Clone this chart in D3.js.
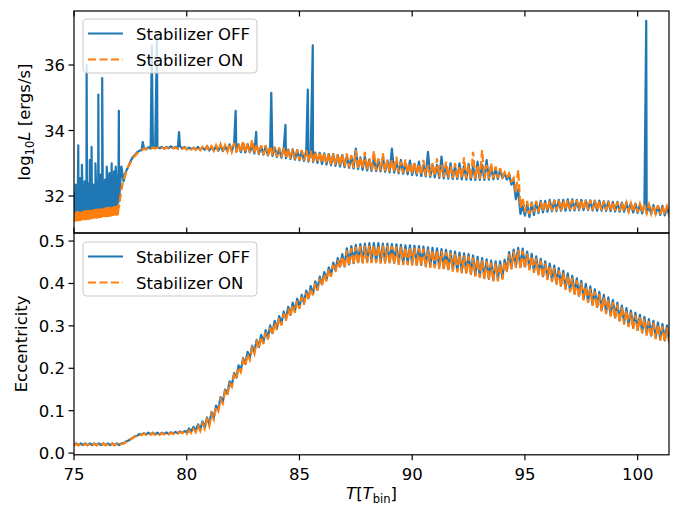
<!DOCTYPE html>
<html>
<head>
<meta charset="utf-8">
<script src="https://cdn.jsdelivr.net/npm/d3@7"></script>
<style>
  body { margin: 0; background: #fff; }
  svg { font-family: "DejaVu Sans", sans-serif; }
</style>
</head>
<body>
<svg id="chart"></svg>
<script>
// dense burst phase 75-77: lows at t = 75 + 0.05*i, highs half a step later
var burstStart = 75, burstStep = 0.05;
// main sampling: lows at t = start + 0.2*i, highs half a step later
var lumStart = 77, eccStart = 75, mainStep = 0.2;

var lumOffBurstLo = [
  31.30,31.30,31.31,31.31,31.32,31.32,31.33,31.33,31.34,31.34,
  31.35,31.35,31.36,31.36,31.37,31.37,31.38,31.38,31.39,31.39,
  31.40,31.40,31.41,31.41,31.42,31.42,31.43,31.43,31.44,31.44,
  31.45,31.45,31.46,31.46,31.47,31.47,31.48,31.48,31.49,31.50
];
var lumOffBurstHi = [
  32.10,32.35,31.95,32.40,32.20,32.55,32.05,32.30,32.15,32.45,
  32.25,32.60,32.10,32.40,32.20,32.50,32.15,32.35,32.05,32.45,
  32.20,32.55,32.30,32.65,32.25,32.45,32.15,32.50,32.30,32.60,
  32.25,32.70,32.35,32.55,32.40,32.75,32.45,32.60,32.50,32.80
];
var lumOnBurstLo = [
  31.22,31.23,31.22,31.24,31.23,31.25,31.24,31.26,31.25,31.27,
  31.26,31.28,31.27,31.29,31.28,31.30,31.29,31.31,31.30,31.32,
  31.31,31.33,31.32,31.34,31.33,31.35,31.34,31.36,31.35,31.37,
  31.36,31.38,31.37,31.39,31.38,31.40,31.39,31.41,31.40,31.42
];
var lumOnBurstHi = [
  31.48,31.52,31.50,31.54,31.51,31.53,31.52,31.55,31.53,31.56,
  31.54,31.57,31.55,31.58,31.56,31.59,31.57,31.60,31.58,31.61,
  31.59,31.62,31.60,31.63,31.61,31.64,31.62,31.65,31.63,31.66,
  31.64,31.67,31.65,31.68,31.66,31.69,31.67,31.70,31.68,31.72
];

var lumOffLo = [
  31.85,32.45,32.88,33.18,33.34, 33.40,33.43,33.45,33.46,33.46,
  33.45,33.46,33.46,33.45,33.45, 33.43,33.43,33.42,33.41,33.41,
  33.39,33.39,33.38,33.37,33.37, 33.36,33.35,33.34,33.33,33.33,
  33.30,33.28,33.26,33.24,33.22, 33.19,33.17,33.15,33.13,33.11,
  33.09,33.07,33.05,33.03,33.01, 32.98,32.96,32.94,32.92,32.90,
  32.88,32.86,32.84,32.82,32.80, 32.78,32.77,32.76,32.75,32.74,
  32.72,32.71,32.69,32.68,32.66, 32.64,32.63,32.61,32.60,32.58,
  32.57,32.55,32.54,32.53,32.52, 32.52,32.51,32.50,32.49,32.49,
  32.49,32.49,32.50,32.51,32.52, 32.55,32.50,32.35,31.90,31.45,
  31.40,31.36,31.42,31.48,31.50, 31.52,31.53,31.54,31.55,31.55,
  31.56,31.56,31.57,31.57,31.57, 31.56,31.55,31.55,31.54,31.54,
  31.53,31.52,31.52,31.51,31.50, 31.48,31.47,31.46,31.45,31.44,
  31.42,31.41,31.40
];
var lumOffHi = [
  32.90,32.75,33.05,33.25,33.38, 33.47,33.49,33.50,33.50,33.50,
  33.50,33.52,33.50,33.52,33.50, 33.48,33.48,33.50,33.48,33.52,
  33.50,33.52,33.55,33.52,33.58, 33.60,33.58,33.62,33.58,33.58,
  33.55,33.52,33.52,33.50,33.48, 33.45,33.45,33.42,33.42,33.40,
  33.38,33.38,33.35,33.33,33.32, 33.30,33.28,33.28,33.25,33.25,
  33.22,33.20,33.45,33.18,33.20, 33.12,33.15,33.10,33.20,33.08,
  33.45,33.05,33.10,33.00,33.08, 32.98,33.05,32.95,33.35,32.95,
  32.95,33.20,32.92,33.00,32.90, 33.00,32.92,32.98,32.90,33.05,
  32.95,33.10,32.90,32.85,32.80, 32.70,32.65,32.45,32.20,31.70,
  31.75,31.80,31.82,31.85,31.85, 31.88,31.87,31.88,31.88,31.90,
  31.90,31.88,31.88,31.87,31.87, 31.86,31.86,31.84,31.84,31.82,
  31.82,31.80,31.80,31.78,31.77, 31.75,31.74,31.73,31.72,31.70,
  31.70,31.68,31.67
];
var lumOffSpikeT = [75.19, 75.35, 75.56, 75.70, 75.78, 75.95, 76.08, 76.25, 76.45, 76.67, 76.85, 76.99,
                    78.05, 78.45, 78.68, 79.66, 82.17, 83.08, 83.75, 84.38, 85.37, 85.59, 100.38];
var lumOffSpikeV = [33.55, 32.95, 36.0, 33.1, 33.5, 33.0, 35.1, 35.6, 32.9, 33.0, 32.9, 34.6,
                    33.65, 36.6, 36.9, 33.95, 34.6, 33.96, 35.15, 34.17, 35.25, 36.6, 37.35];

var lumOnLo = [
  31.70,32.50,32.90,33.15,33.30, 33.38,33.42,33.44,33.45,33.45,
  33.44,33.45,33.45,33.44,33.44, 33.42,33.42,33.41,33.40,33.40,
  33.38,33.38,33.37,33.36,33.36, 33.35,33.34,33.33,33.32,33.32,
  33.30,33.28,33.26,33.24,33.22, 33.20,33.18,33.16,33.14,33.12,
  33.10,33.08,33.06,33.04,33.02, 33.00,32.98,32.96,32.94,32.92,
  32.90,32.88,32.86,32.84,32.82, 32.80,32.79,32.78,32.77,32.76,
  32.75,32.74,32.72,32.70,32.69, 32.67,32.66,32.64,32.62,32.61,
  32.60,32.58,32.57,32.56,32.55, 32.55,32.54,32.53,32.52,32.52,
  32.52,32.52,32.53,32.54,32.55, 32.58,32.55,32.45,32.10,31.65,
  31.50,31.45,31.50,31.52,31.53, 31.55,31.55,31.56,31.56,31.57,
  31.58,31.58,31.58,31.58,31.58, 31.57,31.57,31.56,31.56,31.55,
  31.55,31.54,31.54,31.53,31.52, 31.50,31.49,31.48,31.47,31.46,
  31.44,31.43,31.42
];
var lumOnHi = [
  32.20,32.70,33.00,33.22,33.35, 33.45,33.47,33.48,33.48,33.48,
  33.48,33.49,33.49,33.48,33.48, 33.47,33.47,33.50,33.50,33.52,
  33.52,33.55,33.58,33.55,33.60, 33.62,33.60,33.68,33.62,33.72,
  33.58,33.55,33.55,33.52,33.50, 33.48,33.48,33.45,33.45,33.42,
  33.40,33.40,33.38,33.35,33.35, 33.32,33.30,33.30,33.28,33.30,
  33.30,33.25,33.40,33.20,33.35, 33.15,33.38,33.15,33.30,33.10,
  33.10,33.20,33.05,33.12,33.00, 33.05,32.98,33.10,32.95,33.00,
  33.15,32.95,33.05,32.92,33.00, 32.90,33.18,32.95,33.35,32.95,
  33.40,32.95,33.00,32.90,32.85, 32.72,32.68,32.55,32.80,31.95,
  31.85,31.80,31.85,31.82,31.85, 31.85,31.86,31.86,31.87,31.87,
  31.88,31.88,31.88,31.87,31.87, 31.86,31.85,31.85,31.84,31.83,
  31.82,31.80,31.80,31.78,31.78, 31.76,31.75,31.74,31.72,31.72,
  31.70,31.68,31.68
];

var eccOffLo = [
  .019,.019,.019,.019,.019, .019,.019,.019,.019,.019,
  .019,.023,.029,.036,.041, .043,.044,.044,.044,.044,
  .045,.045,.046,.047,.048, .049,.051,.053,.056,.061,
  .068,.083,.103,.121,.140, .160,.178,.195,.210,.224,
  .238,.250,.261,.272,.283, .294,.305,.316,.326,.335,
  .344,.354,.365,.376,.387, .398,.409,.420,.431,.440,
  .440,.445,.448,.450,.451, .452,.452,.452,.451,.451,
  .450,.449,.448,.447,.447, .446,.445,.444,.442,.441,
  .440,.438,.436,.434,.432, .430,.428,.426,.423,.420,
  .417,.414,.411,.409,.409, .413,.431,.437,.441,.439,
  .440,.435,.429,.423,.417, .412,.407,.401,.395,.389,
  .383,.377,.371,.364,.358, .351,.345,.338,.332,.326,
  .320,.313,.307,.301,.296, .291,.286,.281,.277,.273,
  .269,.266,.263
];
var eccOffHi = [
  .023,.023,.023,.023,.023, .023,.023,.023,.023,.023,
  .023,.027,.033,.040,.045, .047,.048,.048,.048,.048,
  .049,.049,.050,.051,.052, .058,.062,.068,.075,.084,
  .097,.112,.132,.150,.169, .189,.207,.224,.239,.253,
  .267,.279,.290,.301,.312, .323,.334,.345,.355,.364,
  .373,.383,.394,.405,.416, .427,.438,.449,.460,.469,
  .483,.488,.491,.493,.494, .495,.495,.495,.494,.494,
  .493,.492,.491,.490,.490, .489,.488,.487,.485,.484,
  .483,.481,.479,.477,.475, .473,.471,.469,.466,.463,
  .460,.457,.454,.452,.452, .456,.474,.480,.484,.482,
  .475,.470,.464,.458,.452, .447,.442,.436,.430,.424,
  .418,.412,.406,.399,.393, .386,.380,.373,.367,.361,
  .355,.348,.342,.336,.331, .326,.321,.316,.312,.308,
  .304,.301,.298
];
var eccOnLo = [
  .018,.018,.018,.018,.018, .018,.018,.018,.018,.018,
  .018,.022,.028,.035,.040, .042,.043,.043,.043,.043,
  .044,.044,.045,.046,.047, .045,.047,.049,.052,.057,
  .064,.079,.099,.117,.136, .156,.174,.191,.206,.220,
  .234,.246,.257,.268,.279, .290,.301,.312,.322,.331,
  .340,.350,.361,.372,.383, .394,.405,.416,.427,.436,
  .436,.441,.444,.446,.447, .448,.448,.448,.447,.447,
  .446,.445,.444,.443,.443, .442,.441,.440,.438,.437,
  .436,.434,.432,.430,.428, .426,.424,.422,.419,.416,
  .413,.410,.407,.405,.405, .409,.427,.433,.437,.435,
  .436,.431,.425,.419,.413, .408,.403,.397,.391,.385,
  .379,.373,.367,.360,.354, .347,.341,.334,.328,.322,
  .316,.309,.303,.297,.292, .287,.282,.277,.273,.269,
  .265,.262,.259
];
var eccOnHi = [
  .022,.022,.022,.022,.022, .022,.022,.022,.022,.022,
  .022,.026,.032,.039,.044, .046,.047,.047,.047,.047,
  .048,.048,.049,.050,.051, .053,.057,.063,.070,.079,
  .092,.107,.127,.145,.164, .184,.202,.219,.234,.248,
  .262,.274,.285,.296,.307, .318,.329,.340,.350,.359,
  .368,.378,.389,.400,.411, .422,.433,.444,.455,.464,
  .478,.483,.486,.488,.489, .490,.490,.490,.489,.489,
  .488,.487,.486,.485,.485, .484,.483,.482,.480,.479,
  .478,.476,.474,.472,.470, .468,.466,.464,.461,.458,
  .455,.452,.449,.447,.447, .451,.469,.475,.479,.477,
  .470,.465,.459,.453,.447, .442,.437,.431,.425,.419,
  .413,.407,.401,.394,.388, .381,.375,.368,.362,.356,
  .350,.343,.337,.331,.326, .321,.316,.311,.307,.303,
  .299,.296,.293
];

var xTicks = [75, 80, 85, 90, 95, 100];
var lumTicks = [32, 34, 36];
var eccTicks = [0.0, 0.1, 0.2, 0.3, 0.4, 0.5];
var seriesNames = ["Stabilizer OFF", "Stabilizer ON"];
var colors = ["#1f77b4", "#ff7f0e"];

var width = 688, height = 508;
var left = 74, right = 669;
var top1 = 11, bot1 = 233, top2 = 233, bot2 = 454.8;
var fontSize = 16.5;

var svg = d3.select("#chart").attr("width", width).attr("height", height);

var x = d3.scaleLinear().domain([75, 101.39]).range([left, right]);
var yL = d3.scaleLinear().domain([30.87, 37.65]).range([bot1, top1]);
var yE = d3.scaleLinear().domain([-0.004, 0.519]).range([bot2, top2]);

// lows and highs alternate, half a step apart
function zig(start, step, lo, hi) {
  var pts = [];
  lo.forEach(function(v, i) {
    pts.push([start + step * i, v]);
    pts.push([start + step * i + step / 2, hi[i]]);
  });
  return pts;
}
function withSpikes(pts, spT, spV) {
  spT.forEach(function(t, i) { pts.push([t, spV[i]]); });
  return pts.sort(function(a, b) { return a[0] - b[0]; });
}

var defs = svg.append("defs");
defs.append("clipPath").attr("id", "c1").append("rect")
  .attr("x", left).attr("y", top1).attr("width", right - left).attr("height", bot1 - top1);
defs.append("clipPath").attr("id", "c2").append("rect")
  .attr("x", left).attr("y", top2).attr("width", right - left).attr("height", bot2 - top2);

function panel(y, clip, off, on) {
  var line = d3.line().x(function(d) { return x(d[0]); }).y(function(d) { return y(d[1]); });
  var g = svg.append("g").attr("clip-path", "url(#" + clip + ")");
  g.append("path").datum(off).attr("d", line)
    .attr("fill", "none").attr("stroke", colors[0]).attr("stroke-width", 2.2)
    .attr("stroke-linejoin", "round");
  g.append("path").datum(on).attr("d", line)
    .attr("fill", "none").attr("stroke", colors[1]).attr("stroke-width", 2.2)
    .attr("stroke-dasharray", "8,3.5");
}

var lumOff = withSpikes(
  zig(burstStart, burstStep, lumOffBurstLo, lumOffBurstHi).concat(zig(lumStart, mainStep, lumOffLo, lumOffHi)),
  lumOffSpikeT, lumOffSpikeV);
var lumOn = zig(burstStart, burstStep, lumOnBurstLo, lumOnBurstHi).concat(zig(lumStart, mainStep, lumOnLo, lumOnHi));

panel(yL, "c1", lumOff, lumOn);
panel(yE, "c2", zig(eccStart, mainStep, eccOffLo, eccOffHi), zig(eccStart, mainStep, eccOnLo, eccOnHi));

// frames
[[top1, bot1], [top2, bot2]].forEach(function(p) {
  svg.append("rect").attr("x", left).attr("y", p[0]).attr("width", right - left).attr("height", p[1] - p[0])
    .attr("fill", "none").attr("stroke", "#000").attr("stroke-width", 1.2);
});

// y axes
function yAxis(y, ticks, fmt) {
  var g = svg.append("g");
  ticks.forEach(function(t) {
    g.append("line").attr("x1", left - 5.5).attr("x2", left).attr("y1", y(t)).attr("y2", y(t))
      .attr("stroke", "#000").attr("stroke-width", 1.2);
    g.append("text").attr("x", left - 9).attr("y", y(t) + 6).attr("text-anchor", "end")
      .attr("font-size", fontSize).text(fmt(t));
  });
}
yAxis(yL, lumTicks, d3.format("d"));
yAxis(yE, eccTicks, d3.format(".1f"));

// x ticks: top panel inward on both spines, bottom panel outward with labels
xTicks.forEach(function(t) {
  var px = x(t);
  svg.append("line").attr("x1", px).attr("x2", px).attr("y1", top1).attr("y2", top1 + 5.5)
    .attr("stroke", "#000").attr("stroke-width", 1.2);
  svg.append("line").attr("x1", px).attr("x2", px).attr("y1", bot1 - 5.5).attr("y2", bot1)
    .attr("stroke", "#000").attr("stroke-width", 1.2);
  svg.append("line").attr("x1", px).attr("x2", px).attr("y1", bot2).attr("y2", bot2 + 5.5)
    .attr("stroke", "#000").attr("stroke-width", 1.2);
  svg.append("text").attr("x", px).attr("y", 480).attr("text-anchor", "middle")
    .attr("font-size", fontSize).text(t);
});

// axis labels
var yl = svg.append("text").attr("transform", "translate(30," + ((top1 + bot1) / 2) + ") rotate(-90)")
  .attr("text-anchor", "middle").attr("font-size", fontSize);
yl.append("tspan").text("log");
yl.append("tspan").attr("font-size", fontSize * 0.7).attr("dy", 4).text("10");
yl.append("tspan").attr("font-style", "italic").attr("dy", -4).text("L");
yl.append("tspan").text(" [ergs/s]");

svg.append("text").attr("transform", "translate(27," + ((top2 + bot2) / 2) + ") rotate(-90)")
  .attr("text-anchor", "middle").attr("font-size", fontSize).text("Eccentricity");

var xl = svg.append("text").attr("x", (left + right) / 2).attr("y", 499)
  .attr("text-anchor", "middle").attr("font-size", fontSize);
xl.append("tspan").attr("font-style", "italic").text("T");
xl.append("tspan").text("[");
xl.append("tspan").attr("font-style", "italic").text("T");
xl.append("tspan").attr("font-size", fontSize * 0.7).attr("dy", 4).text("bin");
xl.append("tspan").attr("dy", -4).text("]");

// legends
function legend(y0) {
  var g = svg.append("g");
  g.append("rect").attr("x", 83).attr("y", y0).attr("width", 174).attr("height", 54).attr("rx", 4)
    .attr("fill", "#fff").attr("fill-opacity", 0.8).attr("stroke", "#cccccc").attr("stroke-width", 1.1);
  seriesNames.forEach(function(name, i) {
    var ly = y0 + 14.5 + i * 26;
    g.append("line").attr("x1", 88).attr("x2", 123).attr("y1", ly).attr("y2", ly)
      .attr("stroke", colors[i]).attr("stroke-width", 2.2)
      .attr("stroke-dasharray", i ? "8,3.5" : null);
    g.append("text").attr("x", 136).attr("y", ly + 6).attr("font-size", fontSize).text(name);
  });
}
legend(19);
legend(242);
</script>
</body>
</html>
